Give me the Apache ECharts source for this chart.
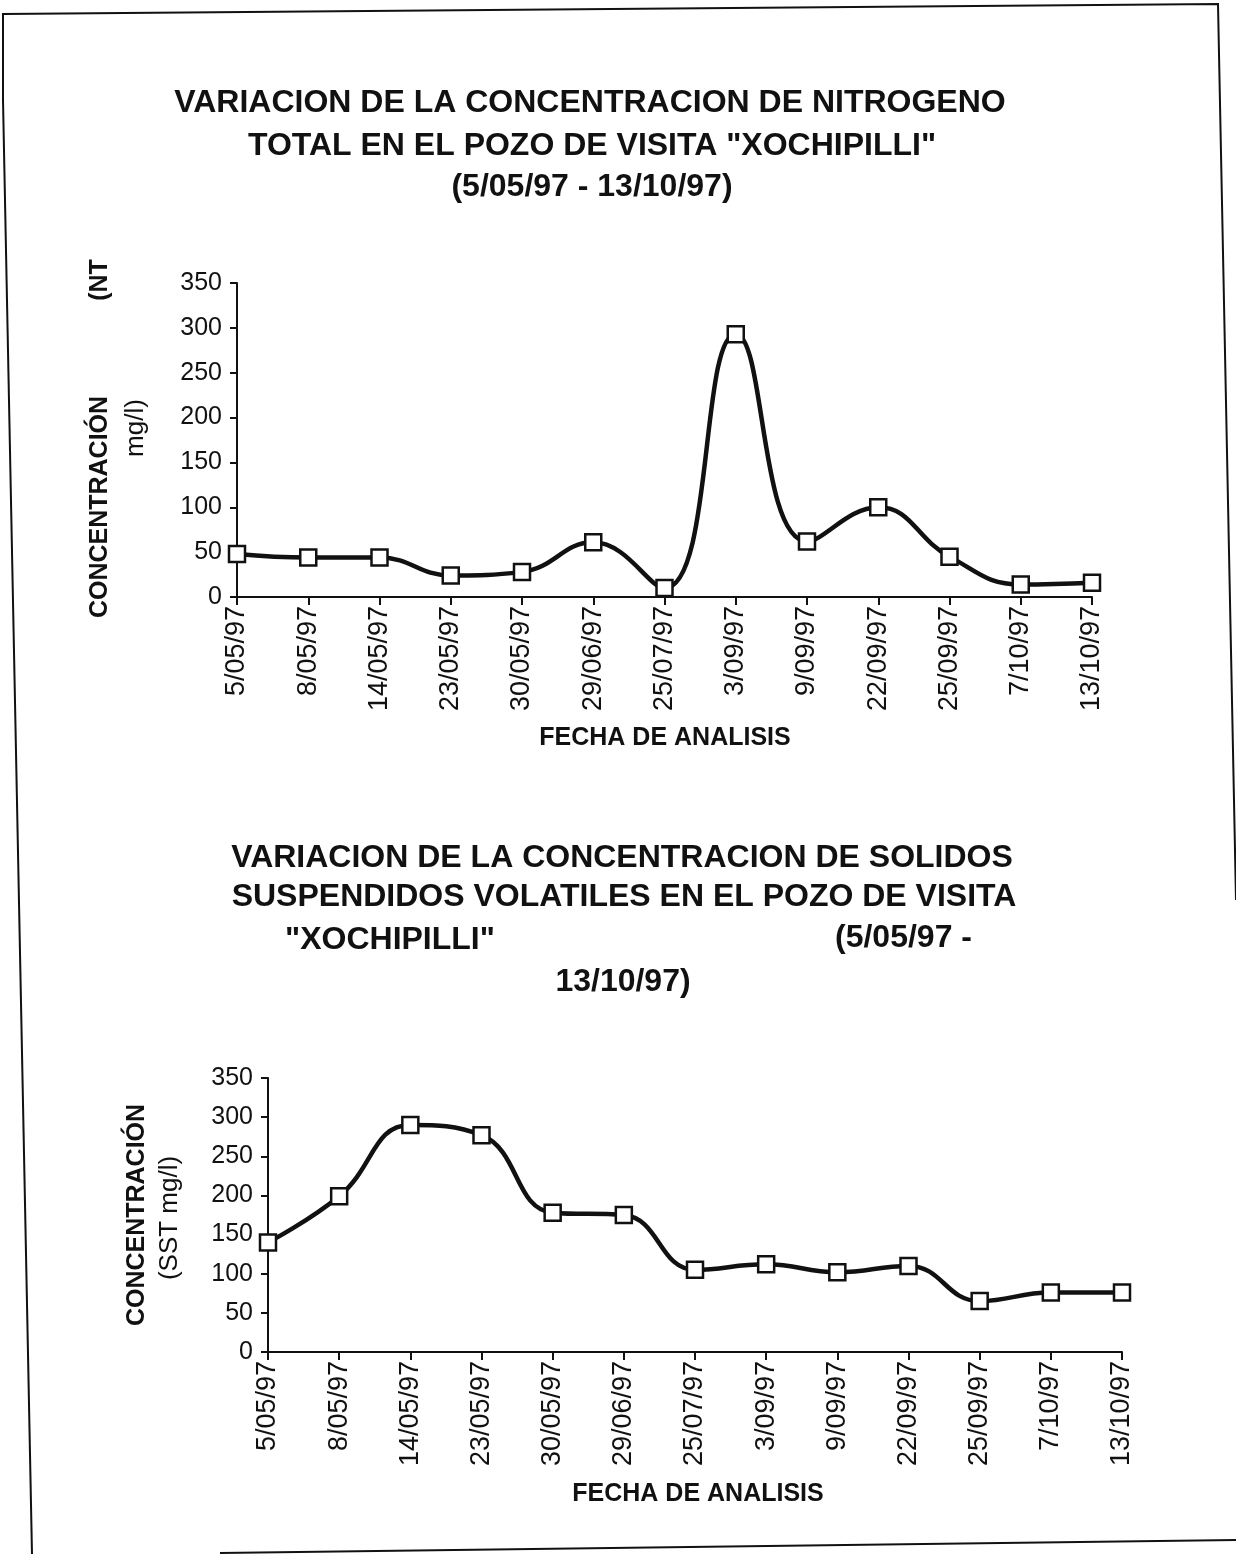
<!DOCTYPE html>
<html>
<head>
<meta charset="utf-8">
<script src="https://cdn.jsdelivr.net/npm/echarts@6/dist/echarts.min.js"></script>
<style>
html,body{margin:0;padding:0;background:#fff;}
#chart{width:1236px;height:1554px;}
</style>
</head>
<body>
<div id="chart"></div>
<script>
// ---- data ----
const fechas = ['5/05/97','8/05/97','14/05/97','23/05/97','30/05/97','29/06/97','25/07/97','3/09/97','9/09/97','22/09/97','25/09/97','7/10/97','13/10/97'];
const nitrogenoTotal = [48, 44, 44, 24, 28, 61, 10, 293, 62, 100, 45, 14, 16];
const solidosSuspendidos = [140, 199, 290, 277, 178, 175, 105, 112, 102, 110, 65, 76, 76];
const yMin = 0, yMax = 350, yStep = 50;

const titulo1 = ['VARIACION DE LA CONCENTRACION DE NITROGENO', 'TOTAL EN EL POZO DE VISITA "XOCHIPILLI"', '(5/05/97 - 13/10/97)'];
const titulo2 = ['VARIACION DE LA CONCENTRACION DE SOLIDOS', 'SUSPENDIDOS VOLATILES EN EL POZO DE VISITA', '"XOCHIPILLI"', '(5/05/97 -', '13/10/97)'];
const ejeX = 'FECHA DE ANALISIS';

const chart = echarts.init(document.getElementById('chart'), null, {renderer:'canvas'});
const INK = '#111';
const SANS = '"Liberation Sans", Arial, sans-serif';

function txt(text, x, y, opts) {
  opts = opts || {};
  return {
    type: 'text', x: x, y: y, rotation: opts.rot || 0,
    style: {
      text: text, fill: INK,
      font: (opts.weight || 'bold') + ' ' + (opts.size || 32) + 'px ' + SANS,
      textAlign: opts.align || 'center', textVerticalAlign: 'middle'
    }
  };
}

function xAxisCfg(gi) {
  return {
    type: 'category', gridIndex: gi, data: fechas, boundaryGap: false,
    axisLine: {lineStyle: {color: INK, width: 2}},
    axisTick: {show: true, length: 8, lineStyle: {color: INK, width: 2}},
    axisLabel: {rotate: 90, color: INK, fontFamily: SANS, fontSize: 27, margin: 9},
    splitLine: {show: false}
  };
}
function yAxisCfg(gi) {
  return {
    type: 'value', gridIndex: gi, min: yMin, max: yMax, interval: yStep,
    axisLine: {show: true, lineStyle: {color: INK, width: 2}},
    axisTick: {show: true, length: 7, lineStyle: {color: INK, width: 2}},
    axisLabel: {color: INK, fontFamily: SANS, fontSize: 25, margin: 15},
    splitLine: {show: false}
  };
}
function seriesCfg(i, data) {
  return {
    type: 'line', xAxisIndex: i, yAxisIndex: i, data: data,
    smooth: 0.45, smoothConstraint: false, symbol: 'rect', symbolSize: 16,
    lineStyle: {color: INK, width: 4.5},
    itemStyle: {color: '#fff', borderColor: INK, borderWidth: 2.5},
    z: 3
  };
}

const pi2 = Math.PI / 2;
const option = {
  backgroundColor: '#fff',
  animation: false,
  grid: [
    {left: 237, right: 144, top: 283, bottom: 957, containLabel: false},
    {left: 268, right: 114, top: 1078, bottom: 202, containLabel: false}
  ],
  xAxis: [xAxisCfg(0), xAxisCfg(1)],
  yAxis: [yAxisCfg(0), yAxisCfg(1)],
  series: [seriesCfg(0, nitrogenoTotal), seriesCfg(1, solidosSuspendidos)],
  graphic: [
    // page frame (scanned page border)
    {type:'polyline', shape:{points:[[3,100],[3,14],[1218,4],[1236,900]]}, style:{stroke:INK, lineWidth:2, fill:null}},
    {type:'line', shape:{x1:3,y1:100,x2:32,y2:1554}, style:{stroke:INK, lineWidth:2}},
    {type:'line', shape:{x1:220,y1:1553,x2:1236,y2:1540}, style:{stroke:INK, lineWidth:2}},
    // chart 1 titles
    txt(titulo1[0], 590, 103),
    txt(titulo1[1], 592, 146),
    txt(titulo1[2], 592, 187),
    // chart 1 axis names
    txt('CONCENTRACIÓN', 100, 507, {rot: pi2, size: 25}),
    txt('mg/l)', 136, 428, {rot: pi2, size: 26, weight: 'normal'}),
    txt('(NT', 100, 280, {rot: pi2, size: 25}),
    txt(ejeX, 665, 738, {size: 25}),
    // chart 2 titles
    txt(titulo2[0], 622, 858),
    txt(titulo2[1], 624, 897),
    txt(titulo2[2], 285, 940, {align: 'left'}),
    txt(titulo2[3], 835, 938, {align: 'left'}),
    txt(titulo2[4], 623, 982),
    // chart 2 axis names
    txt('CONCENTRACIÓN', 137, 1215, {rot: pi2, size: 25}),
    txt('(SST mg/l)', 170, 1218, {rot: pi2, size: 26, weight: 'normal'}),
    txt(ejeX, 698, 1494, {size: 25})
  ]
};
chart.setOption(option);
</script>
</body>
</html>
